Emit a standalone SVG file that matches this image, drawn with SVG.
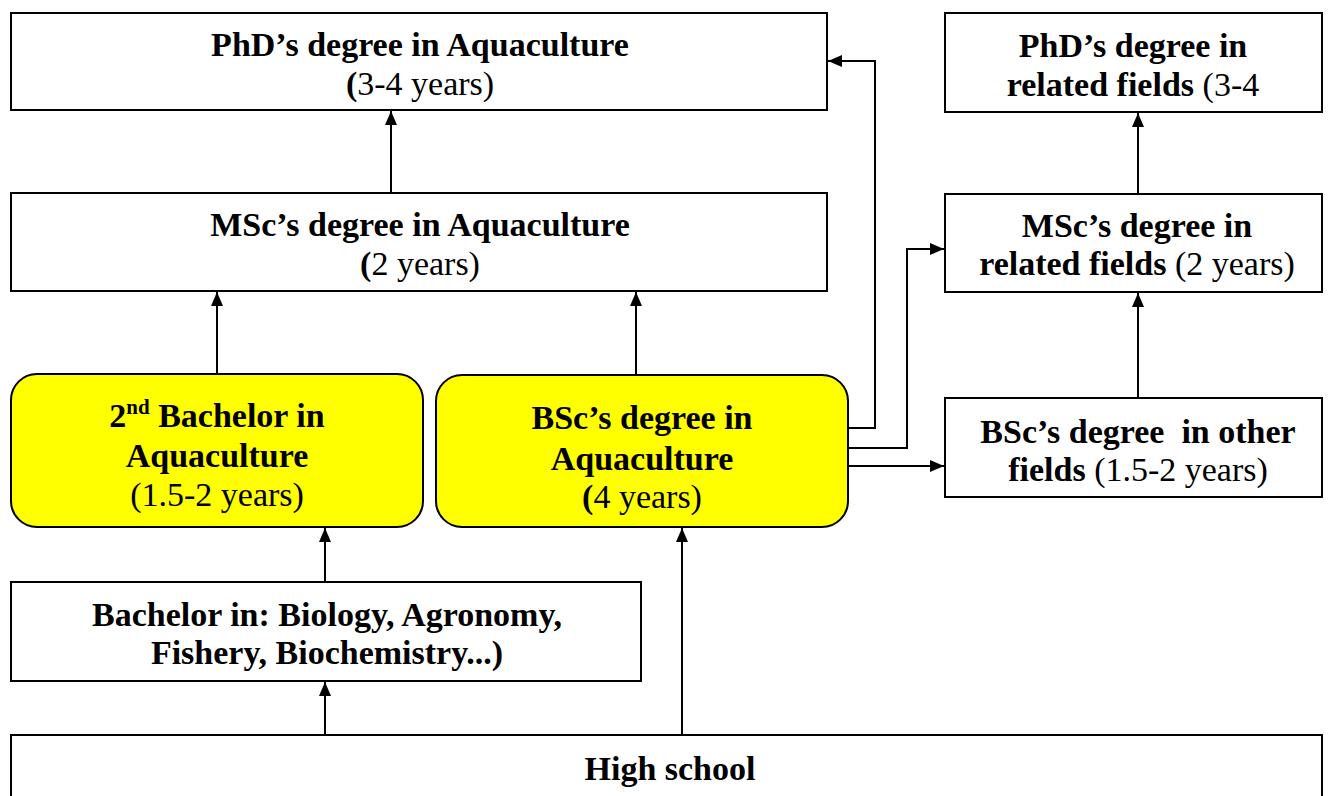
<svg xmlns="http://www.w3.org/2000/svg" width="1336" height="796" viewBox="0 0 1336 796">
<style>
.box{fill:#fff;stroke:#000;stroke-width:2}
.yel{fill:#ffff00;stroke:#000;stroke-width:2}
text{font-size:34px;fill:#000;text-anchor:middle}
.b{font-weight:bold}
.c{fill:none;stroke:#000;stroke-width:2}
</style>
<defs>
<marker id="ah" viewBox="0 0 14 12" refX="14" refY="6" markerWidth="14" markerHeight="12" markerUnits="userSpaceOnUse" orient="auto">
<path d="M0,0 L14,6 L0,12 Z" fill="#000"/>
</marker>
</defs>
<g id="connectors">
<path class="c" d="M391,193 V111" marker-end="url(#ah)"/>
<path class="c" d="M217,374 V292" marker-end="url(#ah)"/>
<path class="c" d="M636,375 V292" marker-end="url(#ah)"/>
<path class="c" d="M325,582 V528" marker-end="url(#ah)"/>
<path class="c" d="M325,735 V682" marker-end="url(#ah)"/>
<path class="c" d="M682,735 V528" marker-end="url(#ah)"/>
<path class="c" d="M848,428 H875 V61 H828" marker-end="url(#ah)"/>
<path class="c" d="M848,448 H907 V249 H944" marker-end="url(#ah)"/>
<path class="c" d="M848,466 H944" marker-end="url(#ah)"/>
<path class="c" d="M1138,398 V293" marker-end="url(#ah)"/>
<path class="c" d="M1138,194 V113" marker-end="url(#ah)"/>
</g>
<g id="phd-aqua">
<rect class="box" x="11" y="13" width="816" height="97"/>
<text x="420" y="56" class="b" font-family="Liberation Serif">PhD’s degree in Aquaculture</text>
<text x="420" y="95" font-family="Liberation Serif"><tspan font-weight="bold">(</tspan>3-4 years)</text>
</g>
<g id="phd-related">
<rect class="box" x="945" y="13" width="377" height="99"/>
<text x="1133" y="57" class="b" font-family="Liberation Serif">PhD’s degree in</text>
<text x="1133" y="96" font-family="Liberation Serif"><tspan font-weight="bold">related fields</tspan> (3-4</text>
</g>
<g id="msc-aqua">
<rect class="box" x="11" y="193" width="816" height="98"/>
<text x="420" y="236" class="b" font-family="Liberation Serif">MSc’s degree in Aquaculture</text>
<text x="420" y="275" font-family="Liberation Serif"><tspan font-weight="bold">(</tspan>2 years)</text>
</g>
<g id="msc-related">
<rect class="box" x="945" y="194" width="377" height="98"/>
<text x="1137" y="237" class="b" font-family="Liberation Serif">MSc’s degree in</text>
<text x="1137" y="275" font-family="Liberation Serif"><tspan font-weight="bold">related fields</tspan> (2 years)</text>
</g>
<g id="second-bachelor">
<rect class="yel" x="11" y="374" width="412" height="153" rx="26"/>
<text x="217" y="427" class="b" font-family="Liberation Serif">2<tspan font-size="21" dy="-13">nd</tspan><tspan dy="13"> Bachelor in</tspan></text>
<text x="217" y="467" class="b" font-family="Liberation Serif">Aquaculture</text>
<text x="217" y="506" font-family="Liberation Serif">(1.5-2 years)</text>
</g>
<g id="bsc-aqua">
<rect class="yel" x="436" y="375" width="412" height="152" rx="26"/>
<text x="642" y="429" class="b" font-family="Liberation Serif">BSc’s degree in</text>
<text x="642" y="470" class="b" font-family="Liberation Serif">Aquaculture</text>
<text x="642" y="508" font-family="Liberation Serif"><tspan font-weight="bold">(</tspan>4 years)</text>
</g>
<g id="bsc-other">
<rect class="box" x="945" y="398" width="377" height="99"/>
<text x="1138" y="443" class="b" font-family="Liberation Serif">BSc’s degree &#160;in other</text>
<text x="1138" y="481" font-family="Liberation Serif"><tspan font-weight="bold">fields</tspan> (1.5-2 years)</text>
</g>
<g id="bachelor">
<rect class="box" x="11" y="582" width="630" height="99"/>
<text x="327" y="626" class="b" font-family="Liberation Serif">Bachelor in: Biology, Agronomy,</text>
<text x="327" y="664" class="b" font-family="Liberation Serif">Fishery, Biochemistry...)</text>
</g>
<g id="high-school">
<rect class="box" x="11" y="735" width="1311" height="70"/>
<text x="670" y="780" class="b" font-family="Liberation Serif">High school</text>
</g>
</svg>
